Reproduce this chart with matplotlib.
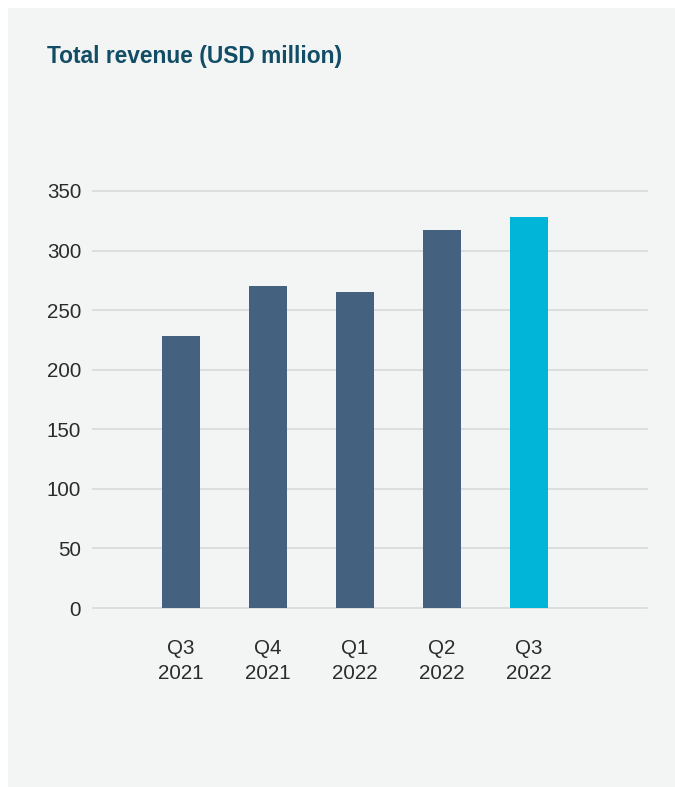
import matplotlib.pyplot as plt
import numpy as np
from matplotlib.patches import Rectangle

plt.rcParams['font.family'] = ['Liberation Sans', 'DejaVu Sans']

# Quarterly revenue, USD million
quarters = ['Q3\n2021', 'Q4\n2021', 'Q1\n2022', 'Q2\n2022', 'Q3\n2022']
revenue = [228, 270, 265, 317, 328]
bar_colors = ['#44617f', '#44617f', '#44617f', '#44617f', '#00b5d7']
yticks = [0, 50, 100, 150, 200, 250, 300, 350]

W, H = 675, 787
fig = plt.figure(figsize=(W / 100, H / 100), dpi=100)
fig.patch.set_facecolor('white')

# light panel behind the chart
fig.patches.append(Rectangle((8 / W, 0), 1 - 8 / W, 1 - 8 / H,
                             transform=fig.transFigure, facecolor='#f3f5f4',
                             edgecolor='none', zorder=-5))

fig.text(47 / W, 1 - 63 / H, 'Total revenue (USD million)', fontsize=16.4,
         fontweight='bold', color='#124d66', ha='left', va='baseline')

ax = fig.add_axes([93 / W, 1 - 608 / H, (647 - 93) / W, (608 - 191) / H])
ax.set_facecolor('none')

x = np.arange(len(quarters))
ax.bar(x, revenue, width=0.44, color=bar_colors, zorder=3)

ax.set_xlim(-1.01, 5.36)
ax.set_ylim(0, 350)
ax.set_yticks(yticks)
ax.set_xticks(x)
ax.set_xticklabels(quarters, linespacing=1.38)

ax.set_axisbelow(True)
ax.yaxis.grid(True, color='#dcdddd', linewidth=1.4)
for gl in ax.get_ygridlines():
    gl.set_clip_on(False)

for s in ax.spines.values():
    s.set_visible(False)
ax.tick_params(axis='both', length=0, labelsize=14.8, labelcolor='#2b2b2b')
ax.tick_params(axis='y', pad=8.5)
ax.tick_params(axis='x', pad=22.5)

fig.savefig('out.png', dpi=100)
